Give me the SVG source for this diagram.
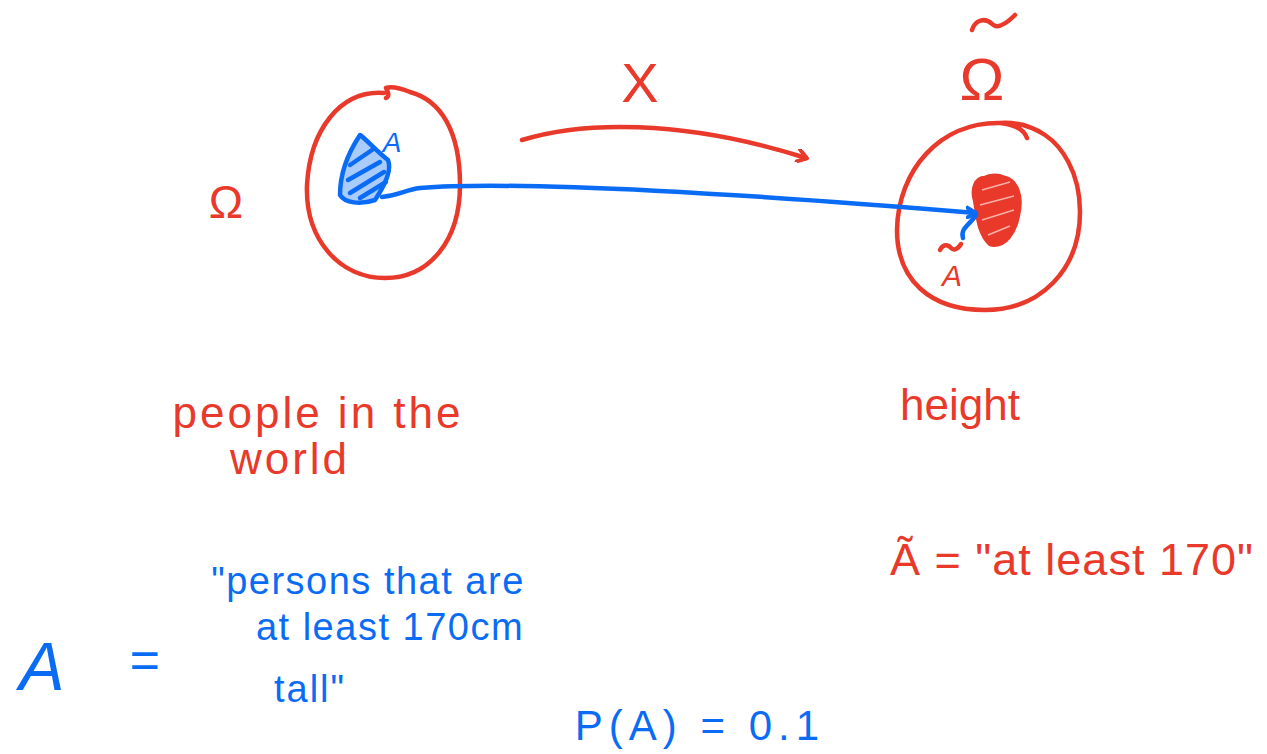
<svg xmlns="http://www.w3.org/2000/svg" width="1267" height="754" viewBox="0 0 1267 754">
<style>
.r{fill:none;stroke:#e8392a;stroke-width:4.5;stroke-linecap:round;stroke-linejoin:round}
.b{fill:none;stroke:#0a6cf5;stroke-width:4.5;stroke-linecap:round;stroke-linejoin:round}
.tr{fill:#e8392a;font-family:"Liberation Sans",Arial,sans-serif}
.tb{fill:#0a6cf5;font-family:"Liberation Sans",Arial,sans-serif}
</style>
<defs>
<marker id="ar" markerWidth="14" markerHeight="14" refX="10" refY="7" orient="auto" markerUnits="userSpaceOnUse">
<path d="M2,1 L11,7 L2,13" fill="none" stroke="#e8392a" stroke-width="4" stroke-linecap="round" stroke-linejoin="round"/>
</marker>
<marker id="ab" markerWidth="14" markerHeight="14" refX="10" refY="7" orient="auto" markerUnits="userSpaceOnUse">
<path d="M0,2 L10,7 L2,12" fill="none" stroke="#0a6cf5" stroke-width="4" stroke-linecap="round" stroke-linejoin="round"/>
</marker>
</defs>
<rect width="1267" height="754" fill="#ffffff"/>

<g id="omega-space">
<path class="r" d="M384,93 C340,90 310,130 307,185 C305,240 340,278 385,278 C430,278 460,240 460,185 C460,130 440,100 410,92 C400,88 392,86 386,88 C388,92 390,96 386,98"/>
<text class="tr" x="226" y="218" font-size="46" text-anchor="middle">Ω</text>
<path class="b" style="fill:#0a6cf5;fill-opacity:0.35" d="M360,135 C350,150 340,170 340,195 C345,203 360,205 375,200 C385,185 392,170 388,160 C375,150 365,138 360,135 Z"/>
<path class="b" stroke-width="3" d="M350,165 L372,150 M348,180 L380,162 M350,193 L384,172 M360,198 L386,182"/>
<text class="tb" x="392" y="152" font-size="28" font-style="italic" text-anchor="middle">A</text>
<text class="tr" x="318" y="428" font-size="44" letter-spacing="3" text-anchor="middle">people in the</text>
<text class="tr" x="290" y="474" font-size="44" letter-spacing="3" text-anchor="middle">world</text>
</g>

<g id="height-space">
<path class="r" d="M1000,123 C940,122 898,170 897,230 C897,280 930,310 985,310 C1040,310 1080,270 1080,212 C1080,170 1060,145 1045,135 C1030,125 1015,122 1000,123 C1018,125 1025,132 1027,138"/>
<text class="tr" x="982" y="100" font-size="60" text-anchor="middle">Ω</text>
<path class="r" d="M972,30 C975,20 985,17 992,24 C998,30 1008,22 1015,15"/>
<path class="r" style="fill:#e8392a" d="M985,178 C975,178 972,190 975,200 C978,215 978,232 990,244 C1005,248 1015,232 1018,215 C1022,198 1018,182 1005,178 C998,175 990,175 985,178 Z"/>
<path d="M982,190 L1010,182 M980,205 L1014,196 M982,220 L1014,210 M988,235 L1010,226" stroke="#ffffff" stroke-width="1.5" stroke-opacity="0.6" fill="none"/>
<text class="tr" x="952" y="286" font-size="30" font-style="italic" text-anchor="middle">A</text>
<path class="r" stroke-width="3.5" d="M940,250 C943,244 948,244 951,248 C954,251 958,249 961,244"/>
<text class="tr" x="960" y="420" font-size="44" text-anchor="middle">height</text>
</g>

<g id="connectors">
<path class="r" marker-end="url(#ar)" d="M522,140 C580,122 680,118 806,158"/>
<text class="tr" x="640" y="102" font-size="56" text-anchor="middle">X</text>
<path class="b" marker-end="url(#ab)" d="M382,197 C400,195 405,190 420,188 C520,180 760,195 976,213"/>
<path class="b" d="M976,215 C970,225 960,228 963,238"/>
</g>

<g id="event-A">
<text class="tb" x="42" y="690" font-size="68" font-style="italic" text-anchor="middle">A</text>
<text class="tb" x="145" y="678" font-size="52" text-anchor="middle">=</text>
<text class="tb" x="368" y="594" font-size="38" letter-spacing="1.5" text-anchor="middle">"persons that are</text>
<text class="tb" x="390" y="640" font-size="38" letter-spacing="1.5" text-anchor="middle">at least 170cm</text>
<text class="tb" x="310" y="702" font-size="38" letter-spacing="2" text-anchor="middle">tall"</text>
<text class="tb" x="700" y="740" font-size="42" letter-spacing="6" text-anchor="middle">P(A) = 0.1</text>
</g>

<g id="event-A-tilde">
<text class="tr" x="1072" y="575" font-size="45" letter-spacing="1" text-anchor="middle">Ã = "at least 170"</text>
</g>
</svg>
